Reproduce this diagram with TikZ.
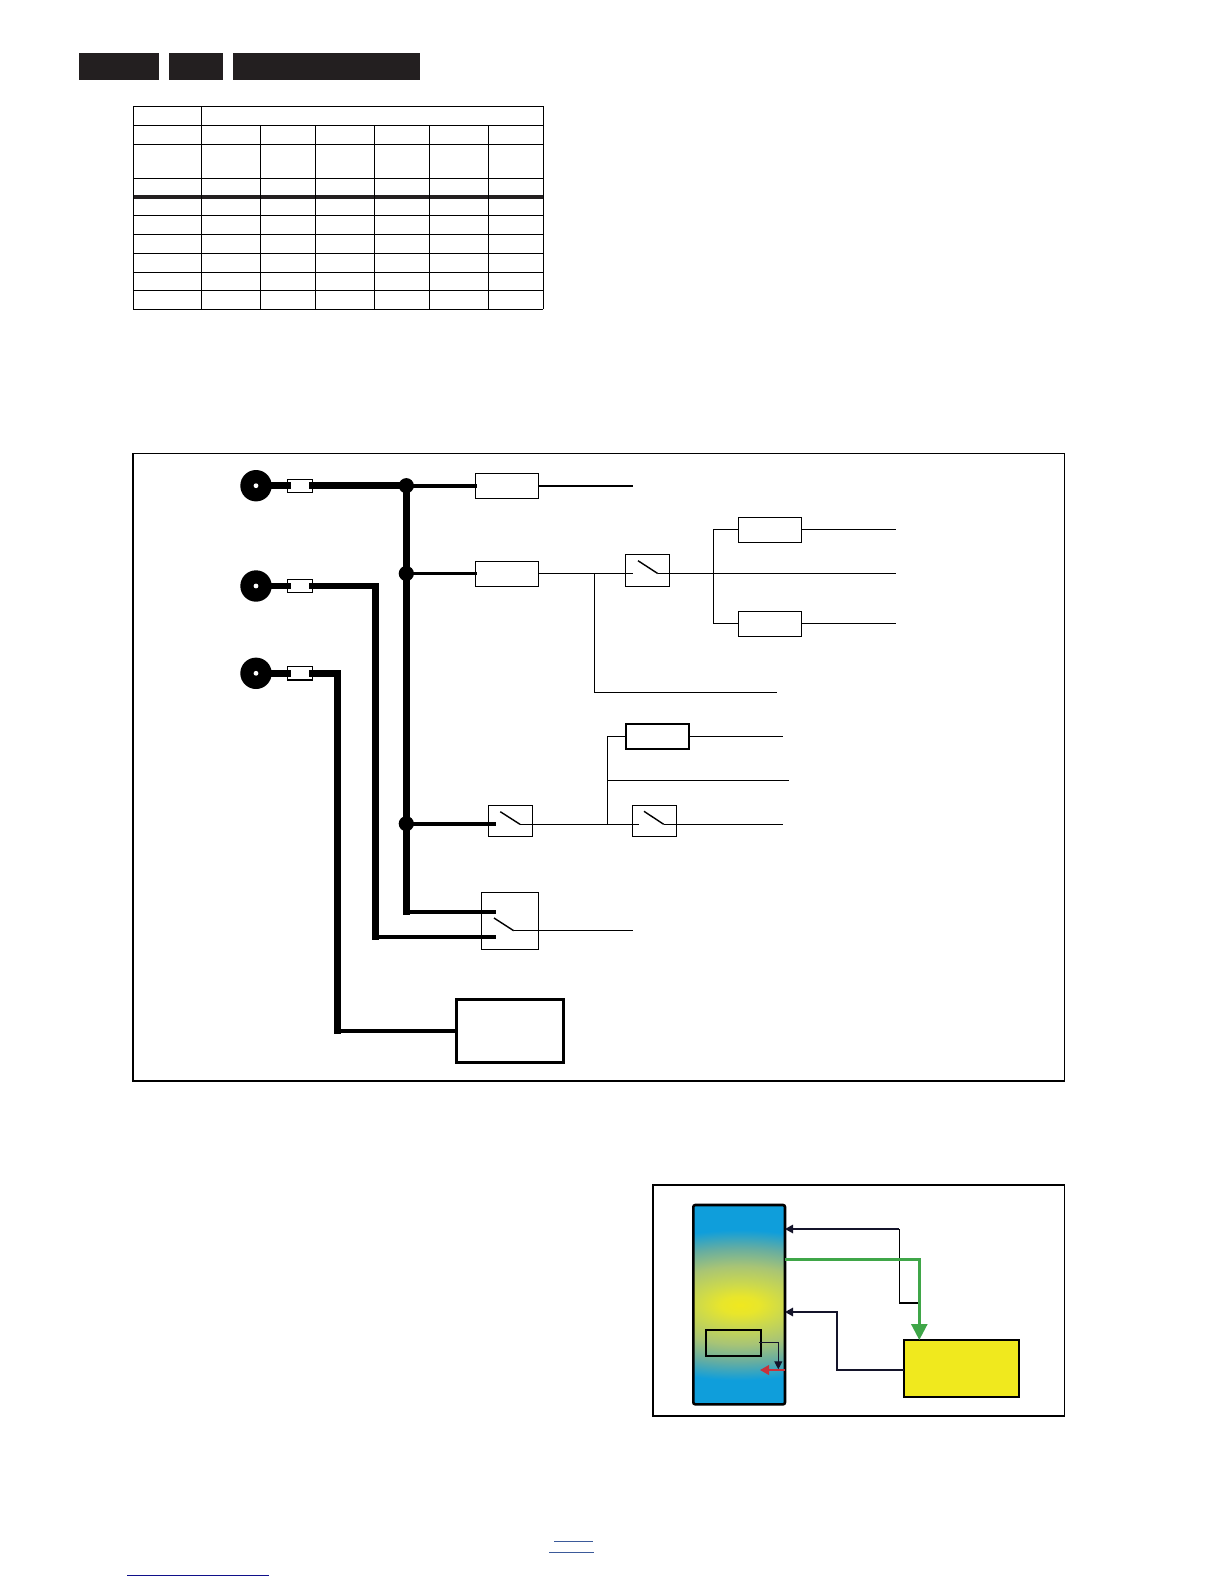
\documentclass[tikz,border=0pt]{standalone}
\usetikzlibrary{arrows.meta}
\definecolor{hdr}{HTML}{231F20}
\definecolor{bluefill}{HTML}{0F9EDB}
\definecolor{yelfill}{HTML}{F0E91E}
\definecolor{grn}{HTML}{3FA648}
\definecolor{navy}{HTML}{14142A}
\definecolor{redarrow}{HTML}{C8323C}
\definecolor{linkA}{HTML}{3B5A9A}
\definecolor{linkB}{HTML}{10108A}
\pgfdeclareradialshading{glow}{\pgfpoint{0bp}{0bp}}{
 rgb(0bp)=(0.94,0.91,0.12);
 rgb(3bp)=(0.91,0.90,0.17);
 rgb(7bp)=(0.80,0.85,0.30);
 rgb(13bp)=(0.66,0.77,0.46);
 rgb(19bp)=(0.40,0.68,0.63);
 rgb(25bp)=(0.06,0.62,0.86);
 rgb(50bp)=(0.06,0.62,0.86)}
\tikzset{
 x=0.5pt,y=-0.5pt,
 line join=miter,
 tline/.style={line width=0.55pt,black},
 tthick/.style={line width=2.2pt,hdr},
 frame/.style={draw=black,line width=0.8pt,fill=white},
 wbox/.style={draw=black,line width=0.55pt,fill=white},
 hbox/.style={draw=black,line width=1.1pt,fill=white},
 medbox/.style={draw=black,line width=0.75pt,fill=white},
 bigbox/.style={draw=black,line width=1.5pt,fill=white},
 icbox/.style={draw=black,line width=1.3pt,rounded corners=1pt},
 subbox/.style={draw=black,line width=0.85pt},
 yelbox/.style={draw=black,line width=0.85pt,fill=yelfill},
 jack/.style={circle,fill=black,draw=none,inner sep=0pt,minimum size=15.7pt},
 pin/.style={circle,fill=white,draw=none,inner sep=0pt,minimum size=2.4pt},
 junction/.style={circle,fill=black,draw=none,inner sep=0pt,minimum size=7.6pt},
 wire/.style={line width=0.55pt,black},
 midwire/.style={line width=1.4pt,black},
 outwire/.style={line width=1.2pt,black},
 feed/.style={line width=2.1pt,black},
 rail/.style={line width=3.4pt,black},
 blade/.style={line width=0.7pt,black},
 darrow/.style={navy,line width=0.75pt,-{Triangle[length=4pt,width=4.2pt]}},
 garrow/.style={grn,line width=1.25pt,-{Triangle[length=8pt,width=8pt]}},
 rarrow/.style={redarrow,line width=0.9pt,-{Triangle[length=4.5pt,width=4.8pt]}}
}
\newcommand{\pbox}[6]{\node[#1,inner sep=0pt,outer sep=0pt,minimum width={(#4-#2)*0.5pt},minimum height={(#5-#3)*0.5pt}] (#6) at ({(#2+#4)/2},{(#3+#5)/2}) {};}
\begin{document}
\begin{tikzpicture}
\path[use as bounding box,fill=white] (0,0) rectangle (1224,1584);
% header bars
\fill[hdr] (79,53) rectangle (159,80);
\fill[hdr] (169,53) rectangle (223,80);
\fill[hdr] (233,53) rectangle (420,80);
% table
\foreach \yy in {106.3,125.3,144.3,178.3,215.3,234.3,253.3,272.3,290.3,309.3}
  \draw[tline] (133.3,\yy) -- (543.3,\yy);
\draw[tthick] (133.3,196.7) -- (543.3,196.7);
\foreach \xx in {133.3,201.3,543.3}
  \draw[tline] (\xx,106.3) -- (\xx,309.3);
\foreach \xx in {260.7,315.3,374.3,429.3,488.3}
  \draw[tline] (\xx,125.3) -- (\xx,309.3);
% main frame
\pbox{frame}{132.8}{453.5}{1064.5}{1081}{mainframe}
% boxes
\pbox{wbox}{287.3}{479.3}{312.7}{492.7}{f1}
\pbox{wbox}{287.3}{579.3}{312.7}{592.7}{f2}
\pbox{wbox}{287.3}{666.7}{312.7}{680}{f3}
\pbox{wbox}{475.3}{473.3}{538.7}{498.7}{r1}
\pbox{wbox}{475.3}{561.3}{538.7}{586.7}{r2}
\pbox{wbox}{625.7}{554.3}{669.7}{586.7}{s1}
\pbox{wbox}{738.3}{517.3}{801.7}{542.7}{r3}
\pbox{wbox}{738.3}{611.3}{801.7}{636.7}{r4}
\pbox{hbox}{625.7}{724}{688.7}{749}{r5}
\pbox{wbox}{632.3}{805.3}{676.7}{836.3}{s2}
\pbox{wbox}{488.3}{805.3}{532.3}{836.3}{s3}
\pbox{medbox}{481.7}{892.7}{538.3}{949.3}{s4}
\pbox{bigbox}{456.7}{999.7}{563.3}{1062.3}{big}
% jacks
\node[jack] (j1) at (256,485.7) {};
\node[jack] (j2) at (256,586) {};
\node[jack] (j3) at (256,673.3) {};
% junctions
\node[junction] (n1) at (406.3,485.7) {};
\node[junction] (n2) at (406.3,573.5) {};
\node[junction] (n3) at (406.3,823.7) {};
% named free ends
\coordinate (f1a) at (291,485.7);
\coordinate (f1b) at (309,485.7);
\coordinate (f2a) at (291,586);
\coordinate (f2b) at (309,586);
\coordinate (f3a) at (291,673.3);
\coordinate (f3b) at (309,673.3);
\coordinate (r1in) at (476.7,485.7);
\coordinate (r2in) at (476.7,573.5);
\coordinate (r1out) at (633,485.7);
\coordinate (busend) at (406.3,915);
\coordinate (rail2c) at (375.5,586);
\coordinate (rail2e) at (375.5,940);
\coordinate (rail3c) at (337.3,673.3);
\coordinate (rail3e) at (337.3,1033.7);
\coordinate (s3in) at (495.7,823.7);
\coordinate (s4a) at (495.7,912);
\coordinate (s4b) at (495.7,937);
\coordinate (busleft) at (406.3,912);
\coordinate (rail2left) at (375.5,937);
\coordinate (rail3left) at (337.3,1030.7);
\coordinate (b1a) at (638,560.7);
\coordinate (b1b) at (657.7,573.5);
\coordinate (s1in) at (632.7,573.5);
\coordinate (t1) at (594.3,573.5);
\coordinate (t1d) at (594.3,692.3);
\coordinate (t1e) at (777,692.3);
\coordinate (t2u) at (713.3,529.5);
\coordinate (t2d) at (713.3,623.5);
\coordinate (o1) at (896,529.5);
\coordinate (o2) at (896,573.5);
\coordinate (o3) at (896,623.5);
\coordinate (b3a) at (500.3,811.7);
\coordinate (b3b) at (520,824.3);
\coordinate (t3) at (607.3,824.3);
\coordinate (t3u) at (607.3,736.5);
\coordinate (t3m) at (607.3,780.3);
\coordinate (m3) at (789,780.3);
\coordinate (o5) at (782.7,736.5);
\coordinate (s2in) at (639,824.3);
\coordinate (b2a) at (644,811.3);
\coordinate (b2b) at (663.7,824.3);
\coordinate (o6) at (782.7,824.3);
\coordinate (b4a) at (494,918);
\coordinate (b4b) at (513.7,930.7);
\coordinate (o4) at (633,930.7);
% thick rails
\draw[rail] (j1.center) -- (f1a);
\draw[rail] (f1b) -- (n1.center);
\draw[rail] (j2.center) -- (f2a);
\draw[rail] (f2b) -- (rail2c) -- (rail2e);
\draw[rail] (j3.center) -- (f3a);
\draw[rail] (f3b) -- (rail3c) -- (rail3e);
\draw[rail] (n1.center) -- (busend);
\draw[feed] (n1.center) -- (r1in);
\draw[midwire] (n2.center) -- (r2in);
\draw[feed] (n3.center) -- (s3in);
\draw[feed] (busleft) -- (s4a);
\draw[feed] (rail2left) -- (s4b);
\draw[feed] (rail3left) -- (rail3left -| big.west);
\node[pin] (p1) at (j1) {};
\node[pin] (p2) at (j2) {};
\node[pin] (p3) at (j3) {};
% thin wiring
\draw[outwire] (r1.east |- r1out) -- (r1out);
\draw[wire] (r2.east |- t1) -- (s1in);
\draw[wire] (t1) -- (t1d) -- (t1e);
\draw[blade] (b1a) -- (b1b);
\draw[wire] (b1b) -- (o2);
\draw[wire] (r3.west |- t2u) -- (t2u) -- (t2d) -- (r4.west |- t2d);
\draw[wire] (r3.east |- o1) -- (o1);
\draw[wire] (r4.east |- o3) -- (o3);
\draw[blade] (b3a) -- (b3b);
\draw[wire] (b3b) -- (s2in);
\draw[wire] (r5.west |- t3u) -- (t3u) -- (t3);
\draw[wire] (t3m) -- (m3);
\draw[wire] (r5.east |- o5) -- (o5);
\draw[blade] (b2a) -- (b2b);
\draw[wire] (b2b) -- (o6);
\draw[blade] (b4a) -- (b4b);
\draw[wire] (b4b) -- (o4);
% lower diagram
\pbox{frame}{653}{1185}{1064.3}{1416}{lowframe}
\begin{scope}
 \clip[rounded corners=1pt] (693.3,1205) rectangle (785,1404.3);
 \fill[bluefill] (693.3,1205) rectangle (785,1404.3);
 \shade[shading=glow] (580,1230) rectangle (900,1380);
\end{scope}
\pbox{icbox}{693.3}{1205}{785}{1404.3}{ic}
\pbox{subbox}{705.7}{1330}{761}{1355.7}{sub}
\pbox{yelbox}{904}{1340}{1019.3}{1397}{yb}
\coordinate (a1r) at (899.3,1229);
\coordinate (a1d) at (899.3,1303);
\coordinate (a1e) at (919.3,1303);
\coordinate (gs) at (785,1259.3);
\coordinate (gc) at (919.3,1259.3);
\coordinate (a2u) at (837,1312);
\coordinate (a2c) at (837,1370);
\coordinate (ic1) at (785,1229);
\coordinate (ic2) at (785,1312);
\coordinate (subout) at (759.3,1342.7);
\coordinate (subc) at (778.3,1342.7);
\coordinate (subd) at (778.3,1369.3);
\coordinate (reds) at (785,1370);
\coordinate (rede) at (760,1370);
\coordinate (ytop) at (919.3,1340);
\draw[black,line width=0.55pt] (a1d) -- (a1r);
\draw[darrow] (a1r) -- (ic1);
\draw[black,line width=0.85pt] (a1d) -- (a1e);
\draw[garrow] (gs) -- (gc) -- (ytop);
\draw[darrow,line width=0.9pt] (yb.west |- a2c) -- (a2c) -- (a2u) -- (ic2);
\draw[navy,line width=0.5pt,-{Triangle[length=4pt,width=4pt]}] (subout) -- (subc) -- (subd);
\draw[rarrow] (reds) -- (rede);
% footer rules
\coordinate (l1a) at (554,1541.3);
\coordinate (l1b) at (592.7,1541.3);
\coordinate (l2a) at (549,1552.3);
\coordinate (l2b) at (593.7,1552.3);
\coordinate (l3a) at (127,1575);
\coordinate (l3b) at (269,1575);
\draw[linkA,line width=0.5pt] (l1a) -- (l1b);
\draw[linkA,line width=0.5pt] (l2a) -- (l2b);
\draw[linkB,line width=0.5pt] (l3a) -- (l3b);
\end{tikzpicture}
\end{document}
